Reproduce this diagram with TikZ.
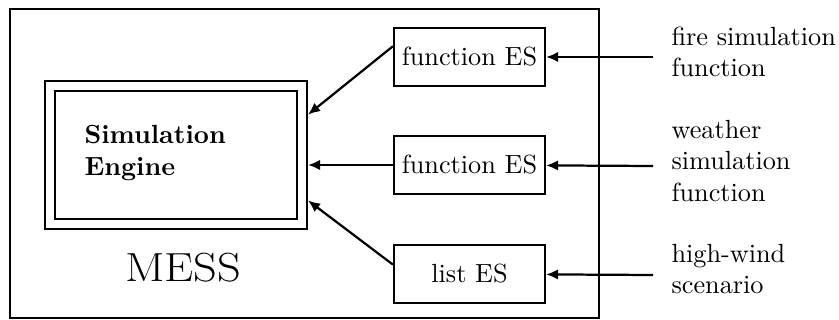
\documentclass[tikz,border=0pt]{standalone}
\usetikzlibrary{arrows.meta}

\begin{document}
\begin{tikzpicture}[x=0.381pt,y=-0.381pt,
  esbox/.style={draw, line width=0.85pt, minimum width=57.5pt, minimum height=22pt, inner sep=0pt},
  srclbl/.style={anchor=west, align=left, inner sep=0pt},
  feed/.style={-{Latex[length=4.6pt,width=4pt]}, line width=0.85pt}]
\useasboundingbox (0,0) rectangle (839,320);
% the MESS frame and its engine
\node[draw, line width=0.75pt, minimum width=224.4pt, minimum height=117.7pt, inner sep=0pt] (mess) at (304.5,163.5) {};
\node[draw, double, double distance=3pt, line width=0.75pt, minimum width=96pt, minimum height=52.8pt, outer sep=2.3pt] (engine) at (176,155) {};
\node[anchor=west, align=left, font=\bfseries, inner sep=0pt] (engtext) at (84,153) {Simulation\\Engine};
\node[anchor=base, font=\fontsize{15.5}{19}\selectfont, inner sep=0pt] (messlbl) at (183,282) {\scalebox{1.14}[1]{MESS}};
% external sources
\node[esbox] (f1) at (469.5,57) {function ES};
\node[esbox] (f2) at (469.5,165) {function ES};
\node[esbox] (f3) at (469.5,274) {list ES};
\coordinate (s1) at (653,57);
\coordinate (s2) at (653,166);
\coordinate (s3) at (653,275);
\node[srclbl] (l1) at (671,52) {fire simulation\\function};
\node[srclbl] (l2) at (671,161) {weather\\simulation\\function};
\node[srclbl] (l3) at (671,269) {high-wind\\scenario};
\draw[feed] (s1) -- (f1);
\draw[feed] (s2) -- (f2);
\draw[feed] (s3) -- (f3);
\draw[feed] (f1.172) -- (engine.17);
\draw[feed] (f2.west) -- (f2.west -| engine.east);
\draw[feed] (f3.173) -- (engine.341);
\end{tikzpicture}
\end{document}
